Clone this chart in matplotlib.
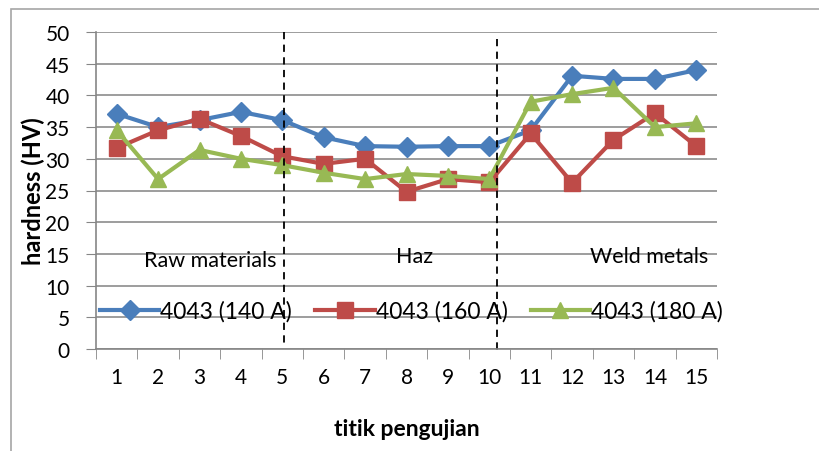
import numpy as np
import matplotlib
matplotlib.use("Agg")
import matplotlib.pyplot as plt
from matplotlib.patches import Rectangle

points = list(range(1, 16))
hv_140 = [37.1, 35.0, 36.1, 37.4, 36.1, 33.4, 32.0, 31.9, 32.0, 32.0, 34.5, 43.1, 42.6, 42.6, 44.0]
hv_160 = [31.7, 34.5, 36.3, 33.6, 30.4, 29.2, 30.0, 24.8, 26.8, 26.3, 34.0, 26.2, 33.0, 37.2, 32.0]
hv_180 = [34.5, 26.8, 31.4, 30.0, 29.0, 27.8, 26.8, 27.6, 27.3, 26.8, 39.0, 40.2, 41.2, 35.0, 35.6]
series_labels = ["4043 (140 A)", "4043 (160 A)", "4043 (180 A)"]
zone_labels = ["Raw materials", "Haz", "Weld metals"]

plt.rcParams["font.family"] = ["Lato", "DejaVu Sans"]

fig = plt.figure(figsize=(8.19, 4.52), dpi=100)
ax = fig.add_axes([96 / 819, 1 - 350 / 452, (717 - 96) / 819, (350 - 33) / 452])

styles = [("#4a7ebb", "D", 10), ("#be4b48", "s", 11), ("#98b954", "^", 12)]
for vals, lab, (c, m, ms) in zip([hv_140, hv_160, hv_180], series_labels, styles):
    ax.plot(points, vals, color=c, marker=m, markersize=ms, linewidth=3, label=lab)

ax.set_xlim(0.5, 15.5)
ax.set_ylim(0, 50)
ax.set_yticks(np.arange(0, 51, 5))
ax.set_xticks(points)
ax.set_xticks(np.arange(0.5, 15.6, 1), minor=True)
ax.tick_params(axis="x", which="major", length=0, labelsize=15, pad=13)
ax.tick_params(axis="x", which="minor", length=7, color="#868686")
ax.tick_params(axis="y", length=7, color="#868686", labelsize=15, pad=12)
ax.grid(axis="y", color="#8c8c8c", linewidth=1.2)
ax.set_axisbelow(True)
for s in ["top", "right"]:
    ax.spines[s].set_visible(False)
for s in ["left", "bottom"]:
    ax.spines[s].set_color("#868686")
    ax.spines[s].set_linewidth(1.2)

# zone separators
ax.plot([5.05, 5.05], [50, 0.8], color="black", linestyle=(0, (4, 3)), linewidth=1.3)
ax.plot([10.18, 10.18], [48.9, -0.8], color="black", linestyle=(0, (4, 3)), linewidth=1.3, clip_on=False)

ax.text(3.25, 14, zone_labels[0], fontsize=15.5, ha="center", va="center")
ax.text(8.2, 14.6, zone_labels[1], fontsize=15.5, ha="center", va="center")
ax.text(13.85, 14.6, zone_labels[2], fontsize=15.5, ha="center", va="center")

ax.legend(loc="center", bbox_to_anchor=(0.508, 0.12), ncol=3, frameon=False,
          fontsize=16.5, handlelength=2.6, handletextpad=0.05, columnspacing=1.0)

ax.set_ylabel("hardness (HV)", fontsize=17, fontweight="bold", labelpad=0)
ax.set_xlabel("titik pengujian", fontsize=16.5, fontweight="bold", labelpad=22)

fig.patches.append(Rectangle((11 / 819, -0.1), 1.2, 1.1 - 10 / 452,
                             transform=fig.transFigure, fill=False,
                             edgecolor="#a6a6a6", linewidth=1.2))

fig.savefig("out.png", dpi=100)
